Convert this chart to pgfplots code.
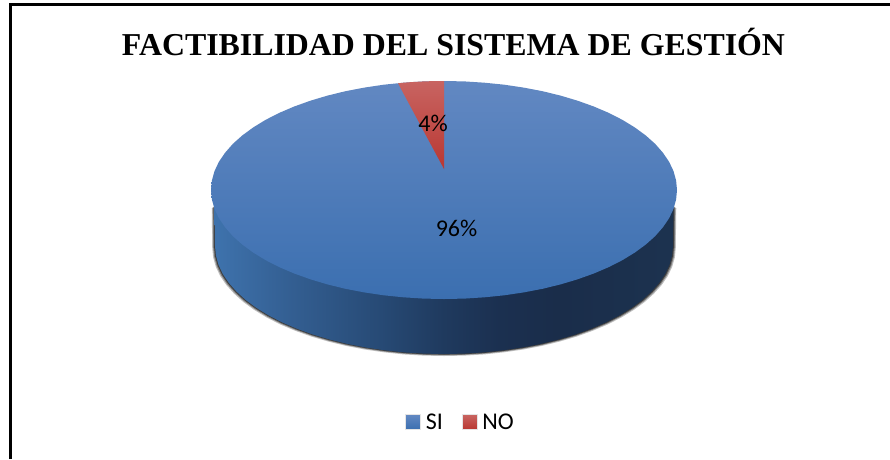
\documentclass[border=0pt]{standalone}
\usepackage{fontspec}
\setmainfont{Liberation Serif}
\newfontfamily\calibri{Carlito}
\usepackage{pgfplots}
\usepackage{pgfplotstable}
\pgfplotsset{compat=1.18}

\definecolor{topblue}{RGB}{98,136,194}
\definecolor{botblue}{RGB}{59,111,176}
\definecolor{topred}{RGB}{200,100,97}
\definecolor{botred}{RGB}{185,55,50}

% side of the disc, dark towards the right
\pgfdeclarehorizontalshading{sideshade}{100bp}{
  rgb(0bp)=(0.243,0.447,0.675);
  rgb(25.2bp)=(0.243,0.447,0.675);
  rgb(33.5bp)=(0.200,0.369,0.569);
  rgb(43.1bp)=(0.153,0.290,0.459);
  rgb(50bp)=(0.122,0.227,0.369);
  rgb(56bp)=(0.106,0.188,0.314);
  rgb(62.4bp)=(0.102,0.176,0.290);
  rgb(74.2bp)=(0.110,0.196,0.310);
  rgb(100bp)=(0.110,0.196,0.310)}

% outlines in pixels of the picture
\pgfplotstableread{
x y
444.0 81.0
464.3 81.4
484.5 82.7
504.3 84.7
523.7 87.6
542.5 91.2
560.5 95.6
577.6 100.7
593.8 106.5
608.8 112.9
622.5 119.9
634.9 127.5
645.8 135.5
655.2 143.9
662.9 152.7
669.1 161.8
673.5 171.1
676.1 180.5
677.0 190.0
676.1 199.5
673.5 208.9
669.1 218.2
662.9 227.3
655.2 236.1
645.8 244.5
634.9 252.5
622.5 260.1
608.8 267.1
593.8 273.5
577.6 279.3
560.5 284.4
542.5 288.8
523.7 292.4
504.3 295.3
484.5 297.3
464.3 298.6
444.0 299.0
423.7 298.6
403.5 297.3
383.7 295.3
364.3 292.4
345.5 288.8
327.5 284.4
310.4 279.3
294.2 273.5
279.2 267.1
265.5 260.1
253.1 252.5
242.2 244.5
232.8 236.1
225.1 227.3
218.9 218.2
214.5 208.9
211.9 199.5
211.0 190.0
211.9 180.5
214.5 171.1
218.9 161.8
225.1 152.7
232.8 143.9
242.2 135.5
253.1 127.5
265.5 119.9
279.2 112.9
294.2 106.5
310.4 100.7
327.5 95.6
345.5 91.2
364.3 87.6
383.7 84.7
403.5 82.7
423.7 81.4
}\topface

\pgfplotstableread{
x y
214.5 206.0
215.0 246.0
215.9 255.4
218.5 264.8
222.8 274.0
228.8 282.9
236.5 291.6
245.7 300.0
256.4 307.9
268.6 315.4
282.1 322.4
296.8 328.7
312.7 334.5
329.5 339.5
347.2 343.9
365.7 347.5
384.7 350.3
404.2 352.4
424.0 353.6
444.0 354.0
464.0 353.6
483.8 352.4
503.3 350.3
522.3 347.5
540.8 343.9
558.5 339.5
575.3 334.5
591.2 328.7
605.9 322.4
619.4 315.4
631.6 307.9
642.3 300.0
651.5 291.6
659.2 282.9
665.2 274.0
669.5 264.8
672.1 255.4
673.0 246.0
673.5 206.0
}\sideface

\pgfplotstableread{
x y
444.0 81.0
444.0 169.0
398.0 83.3
403.5 82.7
413.0 82.0
423.7 81.4
434.0 81.1
}\wedge

\begin{document}
\begin{tikzpicture}
\begin{axis}[
  scale only axis,
  width=890pt,
  height=459pt,
  xmin=0,xmax=890,
  ymin=0,ymax=459,
  y dir=reverse,
  hide axis,
  clip=true,
  legend columns=2,
  legend style={at={(axis cs:460.5,422)},anchor=center,draw=none,fill=none,
    font=\calibri\fontsize{24}{24}\selectfont,inner sep=0pt,
    /tikz/every odd column/.append style={column sep=3pt},
    /tikz/every even column/.append style={column sep=17pt}},
  legend image code/.code={\draw[#1,draw=white!80!gray] (0pt,-7.5pt) rectangle (15pt,7.5pt);},
]
% page
\addplot[fill=white,draw=none,forget plot] coordinates {(0,0)(890,0)(890,459)(0,459)} --cycle;
% frame, cut off at the right and the bottom
\addplot[black,line width=2.6pt,forget plot] coordinates {(10.5,459)(10.5,4.5)(890,4.5)};
% soft shadow below the disc
\addplot[fill=black,fill opacity=0.25,draw=none,forget plot] table[x expr=\thisrow{x}+(\thisrow{x}-444)*0.012,y expr=\thisrow{y}+2] {\sideface} --cycle;
\addplot[fill=black,fill opacity=0.35,draw=none,forget plot] table[x expr=\thisrow{x}+(\thisrow{x}-444)*0.008,y expr=\thisrow{y}+1.2] {\sideface} --cycle;
\addplot[fill=black,fill opacity=0.5,draw=none,forget plot] table[x expr=\thisrow{x}+(\thisrow{x}-444)*0.004,y expr=\thisrow{y}+0.6] {\sideface} --cycle;
% side
\addplot[shading=sideshade,draw=none,forget plot] table {\sideface} --cycle;
% top face
\addplot[top color=topblue,bottom color=botblue,draw=none] table {\topface} --cycle;
\addlegendentry{SI}
% NO wedge
\addplot[top color=topred,bottom color=botred,draw=none] table {\wedge} --cycle;
\addlegendentry{NO}

\node[font=\bfseries\fontsize{31.85}{32}\selectfont,anchor=center] at (axis cs:453.5,42) {FACTIBILIDAD DEL SISTEMA DE GESTIÓN};
\node[font=\calibri\fontsize{24}{24}\selectfont] at (axis cs:433,123) {4\%};
\node[font=\calibri\fontsize{24}{24}\selectfont] at (axis cs:456.5,228) {96\%};
\end{axis}
\end{tikzpicture}
\end{document}
